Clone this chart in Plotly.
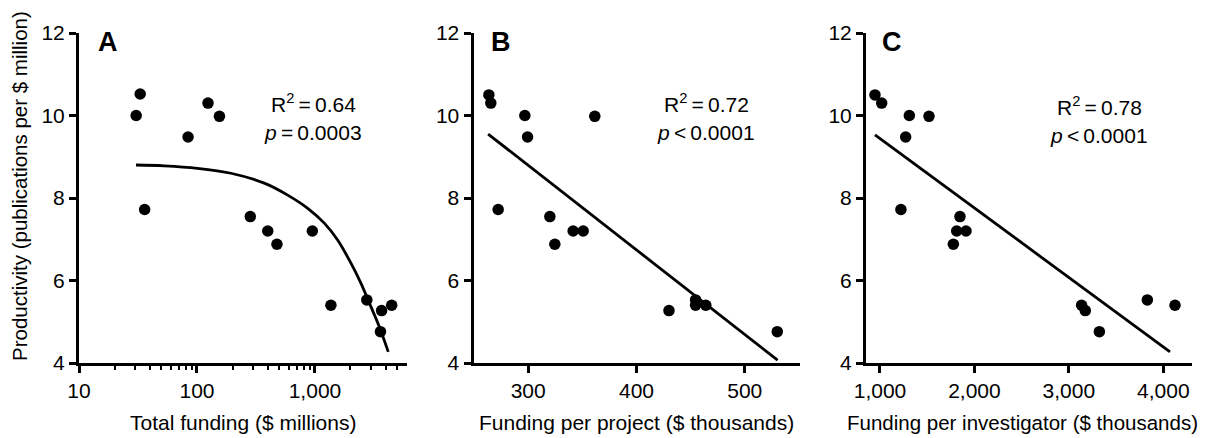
import plotly.graph_objects as go

# ---------------- data ----------------
# Panel A: total funding ($ millions, log axis) vs productivity
a_x = [30.5, 33, 36, 84, 124, 155, 283, 398, 476, 950, 1365, 2750, 3670, 3590, 4470]
a_y = [10.0, 10.52, 7.72, 9.48, 10.3, 9.98, 7.55, 7.2, 6.88, 7.2, 5.4, 5.53, 5.27, 4.76, 5.4]
# fitted curve for A
a_fit_x = [30.4, 52.8, 101, 194, 372, 587, 868, 1200, 1556, 2018, 2455, 2985, 3510, 4180]
a_fit_y = [8.80, 8.78, 8.72, 8.60, 8.36, 8.07, 7.75, 7.39, 6.98, 6.42, 5.93, 5.36, 4.88, 4.27]

# Panel B: funding per project ($ thousands)
b_x = [296.9, 263.7, 272.3, 299.4, 265.5, 361.5, 320, 341.5, 324.6, 350.8, 464, 454.6, 430, 530, 454.6]
b_y = [10.0, 10.5, 7.72, 9.48, 10.3, 9.98, 7.55, 7.2, 6.88, 7.2, 5.4, 5.53, 5.27, 4.76, 5.4]
b_fit_x = [263.0, 530.3]
b_fit_y = [9.55, 4.07]

# Panel C: funding per investigator ($ thousands)
c_x = [947, 1018, 1311, 1272, 1519, 1222, 1847, 1812, 1911, 1777, 3135, 3174, 3323, 3831, 4124]
c_y = [10.5, 10.3, 10.0, 9.48, 9.98, 7.72, 7.55, 7.2, 7.2, 6.88, 5.4, 5.27, 4.76, 5.53, 5.4]
c_fit_x = [947, 4071]
c_fit_y = [9.53, 4.27]

y_ticks = [4, 6, 8, 10, 12]
a_ticks = [10, 100, 1000]
a_ticktext = ["10", "100", "1,000"]
a_minor = [20, 30, 40, 50, 60, 70, 80, 90, 200, 300, 400, 500, 600, 700, 800, 900,
           2000, 3000, 4000, 5000]
b_ticks = [300, 400, 500]
c_ticks = [1000, 2000, 3000, 4000]
c_ticktext = ["1,000", "2,000", "3,000", "4,000"]

labels = ["A", "B", "C"]
stats = [("0.64", "<i>p</i>\u2009=\u20090.0003"),
         ("0.72", "<i>p</i>\u2009<\u20090.0001"),
         ("0.78", "<i>p</i>\u2009<\u20090.0001")]
x_titles = ["Total funding ($ millions)", "Funding per project ($ thousands)",
            "Funding per investigator ($ thousands)"]
y_title = "Productivity (publications per $ million)"

# ---------------- figure ----------------
W, H = 1215, 438
FONT = "Liberation Sans, Arial, Helvetica, sans-serif"

def px(v):
    return v / W

def py(v):
    return 1 - v / H

fig = go.Figure()

marker = dict(color="black", size=11.5)
line = dict(color="black", width=2.8)

fig.add_trace(go.Scatter(x=a_x, y=a_y, mode="markers", marker=marker, xaxis="x", yaxis="y"))
fig.add_trace(go.Scatter(x=a_fit_x, y=a_fit_y, mode="lines", line=dict(line, shape="spline"),
                         xaxis="x", yaxis="y"))
fig.add_trace(go.Scatter(x=b_x, y=b_y, mode="markers", marker=marker, xaxis="x2", yaxis="y2"))
fig.add_trace(go.Scatter(x=b_fit_x, y=b_fit_y, mode="lines", line=line, xaxis="x2", yaxis="y2"))
fig.add_trace(go.Scatter(x=c_x, y=c_y, mode="markers", marker=marker, xaxis="x3", yaxis="y3"))
fig.add_trace(go.Scatter(x=c_fit_x, y=c_fit_y, mode="lines", line=line, xaxis="x3", yaxis="y3"))

ydom = [py(363), py(33)]
axis_common = dict(showline=True, linewidth=3, linecolor="black", ticks="outside",
                   ticklen=7, tickwidth=2.5, tickcolor="black", showgrid=False,
                   zeroline=False, tickfont=dict(family=FONT, size=21, color="black"),
                   fixedrange=True, automargin=False)

fig.update_layout(
    template="none",
    width=W, height=H, margin=dict(l=0, r=0, t=0, b=0, pad=0),
    paper_bgcolor="white", plot_bgcolor="white", showlegend=False,
    font=dict(family=FONT, size=21, color="black"),
    xaxis=dict(axis_common, type="log", domain=[px(79), px(407)], range=[1, 3.78],
               tickvals=a_ticks, ticktext=a_ticktext, anchor="y",
               minor=dict(tickvals=a_minor, ticks="outside", ticklen=4, tickwidth=2,
                          tickcolor="black", showgrid=False)),
    yaxis=dict(axis_common, domain=ydom, range=[4, 12], tickvals=y_ticks, anchor="x"),
    xaxis2=dict(axis_common, domain=[px(473.5), px(800)], range=[249.5, 551],
                tickvals=b_ticks, anchor="y2"),
    yaxis2=dict(axis_common, domain=ydom, range=[4, 12], tickvals=y_ticks, anchor="x2"),
    xaxis3=dict(axis_common, domain=[px(866), px(1192)], range=[852, 4304],
                tickvals=c_ticks, ticktext=c_ticktext, anchor="y3"),
    yaxis3=dict(axis_common, domain=ydom, range=[4, 12], tickvals=y_ticks, anchor="x3"),
)

ann = []
letter_pos = [108, 501, 892]
stat_x = [313, 706, 1099]
stat_y1 = [103, 103, 106]
stat_y2 = [132, 132, 135]
title_x = [243, 636, 1022]
title_size = [21, 21, 20.5]
for i in range(3):
    ann.append(dict(x=px(letter_pos[i]), y=py(42), xref="paper", yref="paper",
                    text="<b>%s</b>" % labels[i], showarrow=False,
                    font=dict(family=FONT, size=27, color="black"),
                    xanchor="center", yanchor="middle"))
    ann.append(dict(x=px(stat_x[i]), y=py(stat_y1[i]), xref="paper", yref="paper",
                    text="R<sup>2</sup>\u2009=\u2009%s" % stats[i][0], showarrow=False,
                    font=dict(family=FONT, size=21, color="black"),
                    xanchor="center", yanchor="middle"))
    ann.append(dict(x=px(stat_x[i]), y=py(stat_y2[i]), xref="paper", yref="paper",
                    text=stats[i][1], showarrow=False,
                    font=dict(family=FONT, size=21, color="black"),
                    xanchor="center", yanchor="middle"))
    ann.append(dict(x=px(title_x[i]), y=py(422), xref="paper", yref="paper",
                    text=x_titles[i], showarrow=False,
                    font=dict(family=FONT, size=title_size[i], color="black"),
                    xanchor="center", yanchor="middle"))
ann.append(dict(x=px(20), y=py(186), xref="paper", yref="paper", text=y_title,
                textangle=-90, showarrow=False,
                font=dict(family=FONT, size=20.5, color="black"),
                xanchor="center", yanchor="middle"))
fig.update_layout(annotations=ann)

fig.write_html(
    "out.html",
    config={"displayModeBar": False},
    post_script="document.body.style.margin='0px';document.body.style.padding='0px';",
)
